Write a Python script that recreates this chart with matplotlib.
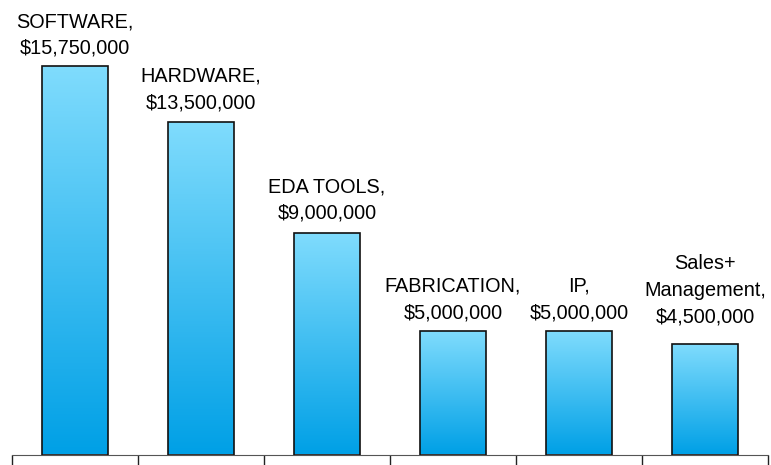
import matplotlib.pyplot as plt
import numpy as np
from matplotlib.colors import LinearSegmentedColormap

plt.rcParams['font.family'] = ['Liberation Sans', 'DejaVu Sans']

categories = ['SOFTWARE', 'HARDWARE', 'EDA TOOLS', 'FABRICATION', 'IP', 'Sales+\nManagement']
costs = [15750000, 13500000, 9000000, 5000000, 5000000, 4500000]

fig = plt.figure(figsize=(7.71, 4.65), dpi=100)
ax = fig.add_axes([12 / 771, 10.5 / 465, 756 / 771, 1 - 21.5 / 465])

x = np.arange(len(categories))
width = 0.52
cmap = LinearSegmentedColormap.from_list('bar', ['#00a0e6', '#80dcfd'])
grad = np.linspace(0, 1, 256).reshape(-1, 1)

bars = ax.bar(x, costs, width, color='none', edgecolor='#111111', linewidth=1.2, zorder=3)
for b in bars:
    x0, y0 = b.get_x(), b.get_y()
    w, h = b.get_width(), b.get_height()
    im = ax.imshow(grad, cmap=cmap, aspect='auto', origin='lower',
                   extent=[x0, x0 + w, y0, y0 + h], zorder=2)
    im.set_clip_path(b)

# label offsets above bars (last one sits a little higher)
offsets = [520000, 560000, 560000, 530000, 530000, 870000]
for i, (c, v) in enumerate(zip(categories, costs)):
    ax.text(i, v + offsets[i], f'{c},\n${v:,.0f}', ha='center', va='baseline',
            fontsize=14.3, linespacing=1.5)

ax.set_xlim(-0.5, len(categories) - 0.5)
ax.set_ylim(0, 18000000)
for s in ['top', 'right', 'left']:
    ax.spines[s].set_visible(False)
ax.spines['bottom'].set_color('#555555')
ax.set_yticks([])
ax.set_xticks([])
ax.set_xticks(np.arange(-0.5, len(categories)), minor=True)
ax.tick_params(axis='x', which='minor', direction='out', length=8, color='#222222', width=1)
ax.set_xticklabels([], minor=True)

plt.savefig('out.png', dpi=100)
